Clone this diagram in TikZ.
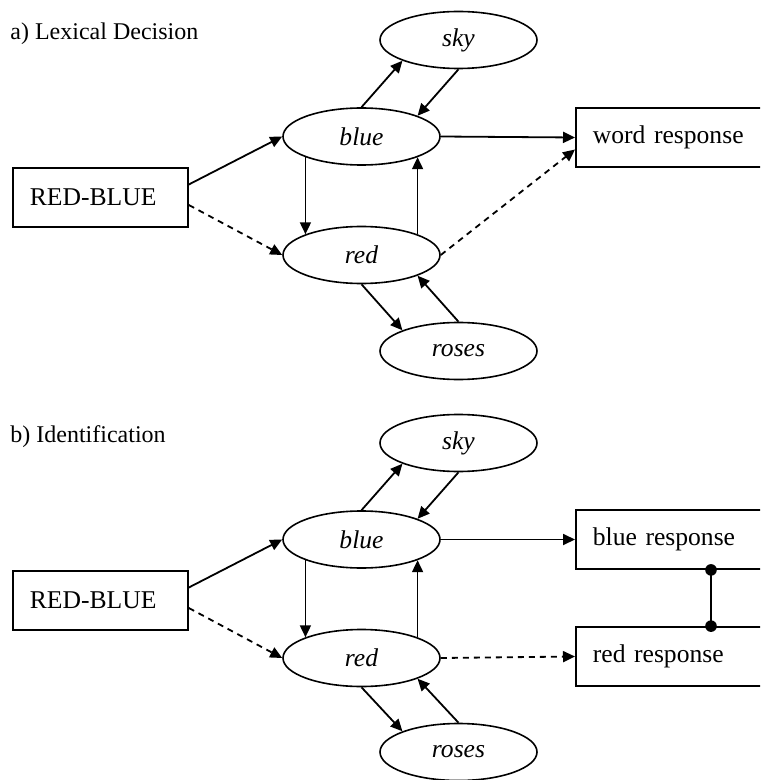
\documentclass[tikz,border=0pt]{standalone}
\usepackage{fontspec}
\setmainfont{Liberation Serif}
\usetikzlibrary{shapes.geometric,arrows.meta}

\begin{document}
\begin{tikzpicture}[x=0.5pt,y=-0.5pt,
  concept/.style={ellipse, draw, fill=white, line width=0.8pt, minimum width=78.5pt,
    minimum height=28.5pt, inner sep=0pt, font=\fontsize{12.8}{15}\selectfont\itshape},
  stimbox/.style={draw, fill=white, line width=0.9pt, anchor=west, minimum height=29.5pt,
    inner xsep=8.5pt, inner ysep=0pt, align=left, font=\fontsize{12.8}{15}\selectfont},
  link/.style={line width=0.9pt, -{Triangle[length=6pt,width=5.5pt]}},
  weak/.style={link, dash pattern=on 3pt off 2.5pt},
  heading/.style={anchor=base west, inner sep=0pt, font=\fontsize{12}{14}\selectfont}]
  \useasboundingbox (0,0) rectangle (760,780);
  \clip (0,0) rectangle (760,780);

  % a) lexical decision
  \node[heading] (ta) at (10,39.5) {a) Lexical Decision};
  \node[stimbox, text width=70.5pt] (a-stim) at (12,197.5) {RED-BLUE};
  \node[concept] (a-blue)  at (361.5,136.5) {blue};
  \node[concept] (a-red)   at (361.5,255)   {red};
  \node[concept] (a-sky)   at (458.5,40)    {sky};
  \node[concept] (a-roses) at (458.5,351)   {roses};
  \node[stimbox, text width=100pt] (a-word) at (575,137.5) {word response};

  \draw[link] ([yshift=6.5pt]a-stim.east) -- (a-blue.west);
  \draw[weak] ([yshift=-3.75pt]a-stim.east) -- (a-red.west);
  \draw[link] (a-blue.south west) -- (a-red.north west);
  \draw[link] (a-red.north east) -- (a-blue.south east);
  \draw[link] (a-blue.north) -- (a-sky.south west);
  \draw[link] (a-sky.south) -- (a-blue.north east);
  \draw[link] (a-red.south) -- (a-roses.north west);
  \draw[link] (a-roses.north) -- (a-red.south east);
  \draw[link] (a-blue.east) -- (a-word.west);
  \draw[weak] (a-red.east) -- ([yshift=-6pt]a-word.west);

  % b) identification
  \node[heading] (tb) at (10,442) {b) Identification};
  \node[stimbox, text width=70.5pt] (b-stim) at (12,600.5) {RED-BLUE};
  \node[concept] (b-blue)  at (361.5,539.5) {blue};
  \node[concept] (b-red)   at (361.5,658)   {red};
  \node[concept] (b-sky)   at (458.5,443)   {sky};
  \node[concept] (b-roses) at (458.5,752)   {roses};
  \node[stimbox, text width=100pt] (b-blueresp) at (575,539.5) {blue response};
  \node[stimbox, text width=100pt] (b-redresp)  at (575,656.5) {red response};

  \draw[link] ([yshift=6.5pt]b-stim.east) -- (b-blue.west);
  \draw[weak] ([yshift=-3.75pt]b-stim.east) -- (b-red.west);
  \draw[link] (b-blue.south west) -- (b-red.north west);
  \draw[link] (b-red.north east) -- (b-blue.south east);
  \draw[link] (b-blue.north) -- (b-sky.south west);
  \draw[link] (b-sky.south) -- (b-blue.north east);
  \draw[link] (b-red.south) -- (b-roses.north west);
  \draw[link] (b-roses.north) -- (b-red.south east);
  \draw[link] (b-blue.east) -- (b-blueresp.west);
  \draw[weak] (b-red.east) -- (b-redresp.west);

  % mutual inhibition between the responses
  \draw[line width=0.9pt] ([xshift=68pt]b-blueresp.south west) -- ([xshift=68pt]b-redresp.north west);
  \fill ([xshift=68pt]b-blueresp.south west) circle[radius=2.9pt];
  \fill ([xshift=68pt]b-redresp.north west)  circle[radius=2.9pt];

\end{tikzpicture}
\end{document}
